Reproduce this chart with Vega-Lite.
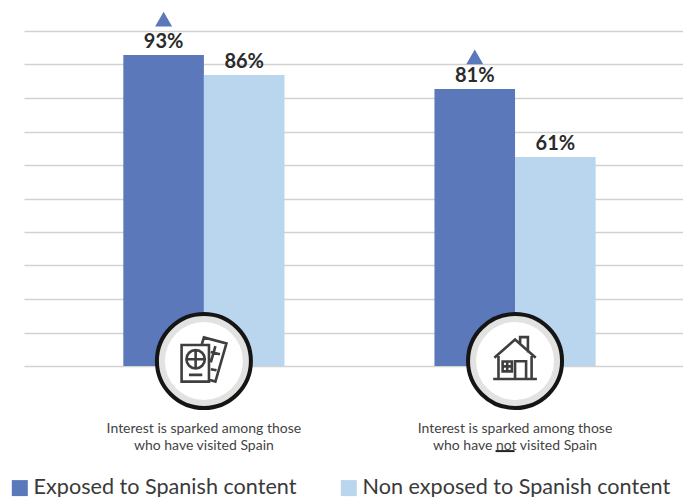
{
"$schema":"https://vega.github.io/schema/vega-lite/v6.json",
"width":659,"height":335,
"autosize":{"type":"none"},
"padding":{"left":24,"top":31,"right":0,"bottom":131},
"background":"white",
"config":{"view":{"stroke":null},"font":"Lato"},
"datasets":{
"bars":[
{"group":"visited","series":"Exposed to Spanish content","value":92.8,"label":"93%"},
{"group":"visited","series":"Non exposed to Spanish content","value":86.9,"label":"86%"},
{"group":"not visited","series":"Exposed to Spanish content","value":82.7,"label":"81%"},
{"group":"not visited","series":"Non exposed to Spanish content","value":62.4,"label":"61%"}
],
"groups":[
{"group":"visited","caption":"Interest is sparked among those\nwho have visited Spain"},
{"group":"not visited","caption":"Interest is sparked among those\nwho have not visited Spain"}
]
},
"layer":[
{"data":{"name":"bars"},"mark":{"type":"bar"},
"encoding":{
"x":{"field":"group","type":"nominal","sort":["visited","not visited"],"axis":null,
"scale":{"paddingInner":0.482,"paddingOuter":0.3,"align":0.532}},
"y":{"field":"value","type":"quantitative","title":null,
"scale":{"domain":[0,100],"nice":false},
"axis":{"values":[0,10,20,30,40,50,60,70,80,90,100],"labels":false,"ticks":false,"domain":false,"grid":true,"gridColor":"#d2d2d2","gridWidth":1.5,"title":null}},
"xOffset":{"field":"series","type":"nominal"},
"color":{"field":"series","type":"nominal","title":null,
"scale":{"domain":["Exposed to Spanish content","Non exposed to Spanish content"],"range":["#5b78bb","#bad5ee"]},
"legend":{"orient":"none","legendX":-15,"legendY":446,"direction":"horizontal","symbolType":"square","symbolSize":256,"symbolStrokeWidth":0,"labelFontSize":21.6,"labelColor":"#3a3a3a","labelFont":"Lato","labelLimit":400,"labelOffset":3,"columnPadding":41,"padding":0}}
}},
{"data":{"name":"bars"},"mark":{"type":"text","font":"Lato","fontSize":20,"fontWeight":"bold","color":"#2b2b2b","baseline":"middle","yOffset":-13},
"encoding":{"x":{"field":"group","type":"nominal","sort":["visited","not visited"],"axis":null},"y":{"field":"value","type":"quantitative","title":null,"axis":{"values":[0,10,20,30,40,50,60,70,80,90,100],"labels":false,"ticks":false,"domain":false,"grid":true,"gridColor":"#d2d2d2","gridWidth":1.5,"title":null}},"xOffset":{"field":"series","type":"nominal"},"text":{"field":"label"}}},
{"data":{"name":"bars"},"transform":[{"filter":"datum.series==='Exposed to Spanish content' && datum.group==='visited'"}],
"mark":{"type":"point","shape":"triangle-up","filled":true,"size":289,"color":"#5b78bb","opacity":1,"yOffset":-36},
"encoding":{"x":{"field":"group","type":"nominal","sort":["visited","not visited"],"axis":null},"y":{"field":"value","type":"quantitative","title":null,"axis":{"values":[0,10,20,30,40,50,60,70,80,90,100],"labels":false,"ticks":false,"domain":false,"grid":true,"gridColor":"#d2d2d2","gridWidth":1.5,"title":null}},"xOffset":{"field":"series","type":"nominal"}}},
{"data":{"name":"bars"},"transform":[{"filter":"datum.series==='Exposed to Spanish content' && datum.group==='not visited'"}],
"mark":{"type":"point","shape":"triangle-up","filled":true,"size":289,"color":"#5b78bb","opacity":1,"yOffset":-32},
"encoding":{"x":{"field":"group","type":"nominal","sort":["visited","not visited"],"axis":null},"y":{"field":"value","type":"quantitative","title":null,"axis":{"values":[0,10,20,30,40,50,60,70,80,90,100],"labels":false,"ticks":false,"domain":false,"grid":true,"gridColor":"#d2d2d2","gridWidth":1.5,"title":null}},"xOffset":{"field":"series","type":"nominal"}}},
{"data":{"name":"groups"},
"mark":{"type":"point","shape":"circle","filled":true,"size":8836,"fill":"#e2e2e1","stroke":"#151515","strokeWidth":4,"opacity":1},
"encoding":{"x":{"field":"group","type":"nominal","sort":["visited","not visited"],"axis":null},"y":{"datum":1.5,"type":"quantitative","title":null,"axis":{"values":[0,10,20,30,40,50,60,70,80,90,100],"labels":false,"ticks":false,"domain":false,"grid":true,"gridColor":"#d2d2d2","gridWidth":1.5,"title":null}}}},
{"data":{"name":"groups"},
"mark":{"type":"point","shape":"circle","filled":true,"size":6084,"color":"#ffffff","opacity":1},
"encoding":{"x":{"field":"group","type":"nominal","sort":["visited","not visited"],"axis":null},"y":{"datum":1.5,"type":"quantitative","title":null,"axis":{"values":[0,10,20,30,40,50,60,70,80,90,100],"labels":false,"ticks":false,"domain":false,"grid":true,"gridColor":"#d2d2d2","gridWidth":1.5,"title":null}}}},
{"data":{"name":"groups"},"transform":[{"filter":"datum.group==='visited'"}],
"mark":{"type":"point","size":2116,"filled":false,"stroke":"#3f3f3f","strokeWidth":2.6,"opacity":1,
"shape":"M-0.97 -0.65 H0.22 V0.94 H-0.97 Z M-0.76 -0.03 A0.4 0.4 0 1 0 0.04 -0.03 A0.4 0.4 0 1 0 -0.76 -0.03 M-0.36 -0.43 V0.37 M-0.76 -0.03 H0.04 M-0.65 0.65 H-0.07 M-0.1 -0.65 L0 -0.98 L0.98 -0.72 L0.5 0.94 L0.22 0.86 M0.5 -0.6 L0.3 0.1 M0.3 -0.35 L0.7 -0.25 M0.3 0.4 L0.55 0.45"},
"encoding":{"x":{"field":"group","type":"nominal","sort":["visited","not visited"],"axis":null},"y":{"datum":1.8,"type":"quantitative","title":null,"axis":{"values":[0,10,20,30,40,50,60,70,80,90,100],"labels":false,"ticks":false,"domain":false,"grid":true,"gridColor":"#d2d2d2","gridWidth":1.5,"title":null}}}},
{"data":{"name":"groups"},"transform":[{"filter":"datum.group==='not visited'"}],
"mark":{"type":"point","size":2116,"filled":false,"stroke":"#3f3f3f","strokeWidth":2.6,"opacity":1,
"shape":"M-0.9 -0.02 L0 -0.82 L0.9 -0.02 M-0.72 -0.1 L-0.72 0.9 L0.72 0.9 L0.72 -0.1 M0.22 -0.6 V-0.92 H0.56 V-0.25 M-0.54 0.14 H-0.14 V0.57 H-0.54 Z M-0.34 0.14 V0.57 M-0.54 0.35 H-0.14 M0 0.9 V0.13 H0.48 V0.9 M-0.95 0.9 H0.95"},
"encoding":{"x":{"field":"group","type":"nominal","sort":["visited","not visited"],"axis":null},"y":{"datum":2.3,"type":"quantitative","title":null,"axis":{"values":[0,10,20,30,40,50,60,70,80,90,100],"labels":false,"ticks":false,"domain":false,"grid":true,"gridColor":"#d2d2d2","gridWidth":1.5,"title":null}}}},
{"data":{"name":"groups"},
"mark":{"type":"text","font":"Lato","fontSize":14,"color":"#444444","lineBreak":"\n","lineHeight":17,"align":"center","baseline":"alphabetic"},
"encoding":{"x":{"field":"group","type":"nominal","sort":["visited","not visited"],"axis":null},"y":{"datum":-20,"type":"quantitative","title":null,"axis":{"values":[0,10,20,30,40,50,60,70,80,90,100],"labels":false,"ticks":false,"domain":false,"grid":true,"gridColor":"#d2d2d2","gridWidth":1.5,"title":null}},"text":{"field":"caption"}}},
{"data":{"name":"groups"},"transform":[{"filter":"datum.group==='not visited'"}],
"mark":{"type":"point","shape":"M-1 0 H1","size":361,"filled":false,"stroke":"#222222","strokeWidth":2,"opacity":1,"xOffset":-10},
"encoding":{"x":{"field":"group","type":"nominal","sort":["visited","not visited"],"axis":null},"y":{"datum":-25.4,"type":"quantitative","title":null,"axis":{"values":[0,10,20,30,40,50,60,70,80,90,100],"labels":false,"ticks":false,"domain":false,"grid":true,"gridColor":"#d2d2d2","gridWidth":1.5,"title":null}}}}
]
}
